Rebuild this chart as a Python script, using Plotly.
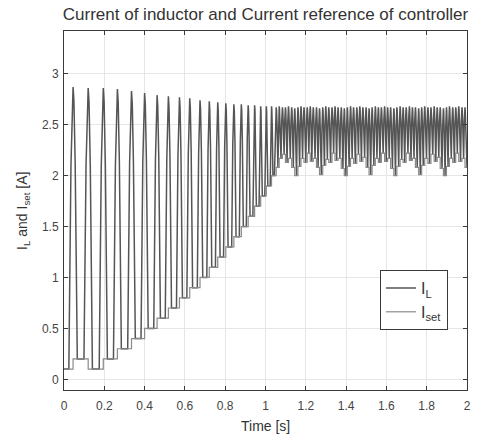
import numpy as np
import plotly.graph_objects as go

# ---------------- data ----------------
# start-up phase: spike peak times [s], peak currents [A], reference level after each spike [A]
ramp_peak_t = [0.045, 0.120, 0.195, 0.265, 0.335, 0.400, 0.462, 0.518, 0.573, 0.624,
               0.675, 0.721, 0.763, 0.803, 0.843, 0.880, 0.914, 0.946, 0.976, 1.004, 1.030]
ramp_peak_v = [2.87, 2.86, 2.86, 2.85, 2.83, 2.81, 2.79, 2.78, 2.77, 2.76,
               2.74, 2.73, 2.72, 2.71, 2.70, 2.70, 2.69, 2.69, 2.68, 2.68, 2.68]
ramp_set_v = [0.20, 0.10, 0.20, 0.30, 0.40, 0.50, 0.60, 0.70, 0.80, 0.90,
              1.00, 1.10, 1.20, 1.30, 1.40, 1.50, 1.60, 1.70, 1.80, 1.90, 2.00]

# steady-state phase
band_peak_t = [1.053, 1.068, 1.084, 1.099, 1.114, 1.130, 1.145, 1.161, 1.176, 1.191,
               1.207, 1.222, 1.237, 1.253, 1.268, 1.284, 1.299, 1.314, 1.330, 1.345,
               1.360, 1.376, 1.391, 1.406, 1.422, 1.437, 1.453, 1.468, 1.483, 1.499,
               1.514, 1.529, 1.545, 1.560, 1.575, 1.591, 1.606, 1.621, 1.637, 1.652,
               1.668, 1.683, 1.698, 1.714, 1.729, 1.744, 1.760, 1.775, 1.790, 1.806,
               1.821, 1.837, 1.852, 1.867, 1.883, 1.898, 1.913, 1.929, 1.944, 1.959,
               1.975, 1.990]
band_peak_v = [2.67, 2.68, 2.67, 2.67, 2.68, 2.67, 2.66, 2.67, 2.68, 2.67,
               2.67, 2.68, 2.67, 2.67, 2.66, 2.67, 2.68, 2.67, 2.67, 2.68,
               2.67, 2.67, 2.66, 2.67, 2.68, 2.67, 2.67, 2.68, 2.67, 2.67,
               2.66, 2.67, 2.68, 2.67, 2.67, 2.68, 2.67, 2.67, 2.66, 2.67,
               2.68, 2.67, 2.67, 2.68, 2.67, 2.67, 2.66, 2.67, 2.68, 2.67,
               2.67, 2.68, 2.67, 2.67, 2.66, 2.67, 2.68, 2.67, 2.67, 2.68,
               2.67, 2.67]
band_set_v = [2.08, 2.17, 2.21, 2.13, 2.17, 2.08, 2.00, 2.09, 2.17, 2.13,
              2.22, 2.14, 2.17, 2.08, 2.01, 2.10, 2.16, 2.13, 2.22, 2.15,
              2.17, 2.07, 2.00, 2.09, 2.17, 2.12, 2.21, 2.14, 2.18, 2.08,
              2.01, 2.10, 2.17, 2.13, 2.22, 2.14, 2.17, 2.07, 2.00, 2.09,
              2.16, 2.13, 2.22, 2.15, 2.17, 2.08, 2.01, 2.10, 2.17, 2.12,
              2.21, 2.14, 2.18, 2.07, 2.00, 2.09, 2.17, 2.13, 2.22, 2.14,
              2.17, 2.08]

initial_set = 0.10
t_end = 2.0

x_ticks = [0, 0.2, 0.4, 0.6, 0.8, 1, 1.2, 1.4, 1.6, 1.8, 2]
x_tick_text = ["0", "0.2", "0.4", "0.6", "0.8", "1", "1.2", "1.4", "1.6", "1.8", "2"]
y_ticks = [0, 0.5, 1, 1.5, 2, 2.5, 3]
y_tick_text = ["0", "0.5", "1", "1.5", "2", "2.5", "3"]

# ---------------- build the waveforms ----------------
n_ramp = len(ramp_peak_t)
peak_t = np.array(ramp_peak_t + band_peak_t)
peak_v = np.array(ramp_peak_v + band_peak_v)
set_v = np.array(ramp_set_v + band_set_v)
prev_level = np.concatenate([[initial_set], set_v[:-1]])

n = len(peak_t)
il_t = [0.0]
il_v = [initial_set]
for k in range(n):
    if k == 0:
        per = peak_t[1] - peak_t[0]
    elif k == n - 1:
        per = peak_t[k] - peak_t[k - 1]
    else:
        per = (peak_t[k + 1] - peak_t[k - 1]) / 2
    hw = (0.28 if k < n_ramp else 0.45) * per
    tp, p, a, b = peak_t[k], peak_v[k], prev_level[k], set_v[k]
    il_t += [tp - hw, tp - 0.5 * hw, tp - 0.2 * hw, tp,
             tp + 0.2 * hw, tp + 0.5 * hw, tp + hw]
    il_v += [a, a + 0.72 * (p - a), p - 0.05 * (p - a), p,
             p - 0.05 * (p - b), b + 0.72 * (p - b), b]
il_t.append(t_end)
il_v.append(set_v[-1])

set_t = [0.0] + list(peak_t) + [t_end]
set_y = [initial_set] + list(set_v) + [set_v[-1]]

# ---------------- figure ----------------
font_family = "Liberation Sans, Arial, Helvetica, sans-serif"
fig = go.Figure()
fig.add_trace(go.Scatter(x=il_t, y=il_v, mode="lines", name="I<sub>L</sub>",
                         line=dict(color="#555555", width=1.5)))
fig.add_trace(go.Scatter(x=set_t, y=set_y, mode="lines", name="I<sub>set</sub>",
                         line=dict(color="#8a8a8a", width=1.2, shape="hv")))

axis_common = dict(showline=True, linecolor="#3a3a3a", linewidth=1, mirror="ticks",
                   ticks="inside", ticklen=4, tickcolor="#3a3a3a",
                   showgrid=True, gridcolor="#e6e6e6", gridwidth=1, zeroline=False,
                   tickfont=dict(family=font_family, size=12, color="#444444"))

fig.update_layout(
    width=478, height=440,
    margin=dict(l=64, r=7, t=31, b=50),
    paper_bgcolor="white", plot_bgcolor="white",
    font=dict(family=font_family, color="#333333"),
    title=dict(text="Current of inductor and Current reference of controller",
               x=0.5, xref="paper", xanchor="center",
               y=1 - 14 / 440, yref="container", yanchor="middle",
               font=dict(size=17, color="#333333")),
    xaxis=dict(range=[0, 2], tickvals=x_ticks, ticktext=x_tick_text,
               ticklabelstandoff=5, **axis_common),
    yaxis=dict(range=[-0.105, 3.42], tickvals=y_ticks, ticktext=y_tick_text,
               ticklabelstandoff=2, **axis_common),
    showlegend=True,
    legend=dict(x=0.784, y=0.334, xanchor="left", yanchor="top",
                bgcolor="white", bordercolor="#3a3a3a", borderwidth=1,
                font=dict(family=font_family, size=16, color="#333333")),
    annotations=[
        dict(text="Time [s]", xref="paper", yref="paper", x=0.5, y=-0.1,
             xanchor="center", yanchor="middle", showarrow=False,
             font=dict(family=font_family, size=14, color="#333333")),
        dict(text="I<sub>L</sub> and I<sub>set</sub> [A]", xref="paper", yref="paper",
             x=-0.103, y=0.5, xanchor="center", yanchor="middle", textangle=-90,
             showarrow=False, font=dict(family=font_family, size=14, color="#333333")),
    ],
)

fig.write_html("out.html")
